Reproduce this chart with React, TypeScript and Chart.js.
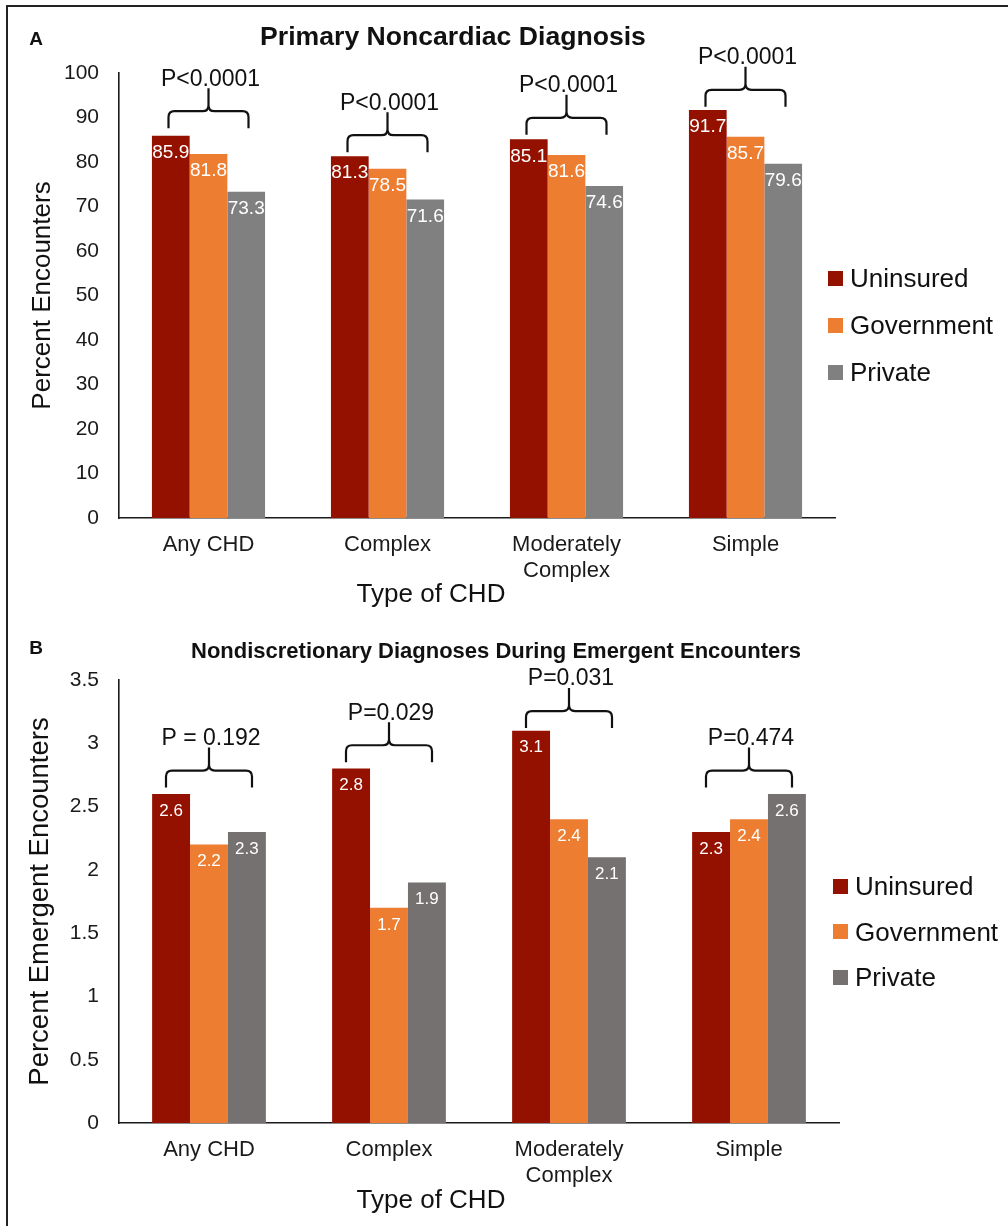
import React, { useEffect, useRef } from 'react';
import { Chart, registerables } from 'chart.js';

Chart.register(...registerables);

// ---------- data ----------
const categories: (string | string[])[] = ['Any CHD', 'Complex', ['Moderately', 'Complex'], 'Simple'];
const seriesNames = ['Uninsured', 'Government', 'Private'];

const uninsuredA = [85.9, 81.3, 85.1, 91.7];
const governmentA = [81.8, 78.5, 81.6, 85.7];
const privateA = [73.3, 71.6, 74.6, 79.6];
const pValuesA = ['P<0.0001', 'P<0.0001', 'P<0.0001', 'P<0.0001'];
const bracketTipsA = [87.6, 82.2, 86.1, 92.4];
const yTicksA = [0, 10, 20, 30, 40, 50, 60, 70, 80, 90, 100];

const uninsuredB = [2.6, 2.8, 3.1, 2.3];
const governmentB = [2.2, 1.7, 2.4, 2.4];
const privateB = [2.3, 1.9, 2.1, 2.6];
const pValuesB = ['P = 0.192', 'P=0.029', 'P=0.031', 'P=0.474'];
const bracketTipsB = [2.65, 2.85, 3.12, 2.65];
const yTicksB = [0, 0.5, 1, 1.5, 2, 2.5, 3, 3.5];

// ---------- styles ----------
const FONT = '"Liberation Sans", Arial, sans-serif';
const colorsA = ['#941100', '#ED7D31', '#808080'];
const colorsB = ['#941100', '#ED7D31', '#767171'];

const bracketPlugin = {
  id: 'brackets',
  afterDatasetsDraw(chart: any, _args: any, opts: any) {
    const { ctx } = chart;
    const xs = chart.scales.x;
    const ys = chart.scales.y;
    const tips: number[] = opts.tips || [];
    const labels: string[] = opts.labels || [];
    const half = opts.half ?? 42;
    const r = 6;
    ctx.save();
    ctx.strokeStyle = '#111';
    ctx.lineWidth = 2.2;
    ctx.lineJoin = 'round';
    ctx.fillStyle = '#111';
    ctx.font = `${opts.fontSize ?? 23}px ${FONT}`;
    ctx.textAlign = 'center';
    ctx.textBaseline = 'middle';
    tips.forEach((t, i) => {
      const xc = xs.getPixelForValue(i);
      const tip = ys.getPixelForValue(t);
      const h = tip - 17;
      const top = tip - 40;
      const x0 = xc - half;
      const x1 = xc + half;
      ctx.beginPath();
      ctx.moveTo(x0, tip);
      ctx.lineTo(x0, h + r);
      ctx.quadraticCurveTo(x0, h, x0 + r, h);
      ctx.lineTo(xc - r, h);
      ctx.quadraticCurveTo(xc, h, xc, h - r);
      ctx.lineTo(xc, top);
      ctx.moveTo(xc, h - r);
      ctx.quadraticCurveTo(xc, h, xc + r, h);
      ctx.lineTo(x1 - r, h);
      ctx.quadraticCurveTo(x1, h, x1, h + r);
      ctx.lineTo(x1, tip);
      ctx.stroke();
      ctx.fillText(labels[i], xc + 2, tip - 49);
    });
    ctx.restore();
  },
};

const valueLabelPlugin = {
  id: 'valueLabels',
  afterDatasetsDraw(chart: any, _args: any, opts: any) {
    const { ctx } = chart;
    ctx.save();
    ctx.fillStyle = '#ffffff';
    ctx.font = `${opts.fontSize ?? 18}px ${FONT}`;
    ctx.textAlign = 'center';
    ctx.textBaseline = 'middle';
    chart.data.datasets.forEach((ds: any, di: number) => {
      const meta = chart.getDatasetMeta(di);
      meta.data.forEach((bar: any, i: number) => {
        ctx.fillText(String(ds.data[i]), bar.x, bar.y + 17);
      });
    });
    ctx.restore();
  },
};

function makeConfig(p: {
  series: number[][];
  colors: string[];
  ticks: number[];
  max: number;
  yTitle: string;
  yTitleSize: number;
  yTitlePad: number;
  tips: number[];
  pLabels: string[];
  padTop: number;
  padRight: number;
  xHeight: number;
  valueSize: number;
  half: number;
}): any {
  return {
    type: 'bar',
    data: {
      labels: categories,
      datasets: p.series.map((d, i) => ({
        label: seriesNames[i],
        data: d,
        backgroundColor: p.colors[i],
        borderWidth: 0,
        categoryPercentage: 0.632,
        barPercentage: 1.0,
      })),
    },
    plugins: [valueLabelPlugin, bracketPlugin],
    options: {
      responsive: false,
      animation: false,
      devicePixelRatio: 1,
      layout: { padding: { top: p.padTop, right: p.padRight, left: 0, bottom: 0 } },
      plugins: {
        legend: { display: false },
        title: { display: false },
        tooltip: { enabled: false },
        valueLabels: { fontSize: p.valueSize },
        brackets: { tips: p.tips, labels: p.pLabels, half: p.half, fontSize: 23 },
      },
      scales: {
        x: {
          grid: { display: false, drawTicks: false },
          border: { display: true, color: '#1a1a1a', width: 1.6 },
          ticks: {
            color: '#1a1a1a',
            padding: 14,
            maxRotation: 0,
            autoSkip: false,
            font: { family: FONT, size: 22, lineHeight: 26 / 22 },
          },
          afterFit: (scale: any) => {
            scale.height = p.xHeight;
          },
        },
        y: {
          min: 0,
          max: p.max,
          grid: { display: false, drawTicks: false },
          border: { display: true, color: '#1a1a1a', width: 1.6 },
          afterBuildTicks: (scale: any) => {
            scale.ticks = p.ticks.map((v) => ({ value: v }));
          },
          ticks: {
            color: '#1a1a1a',
            padding: 20,
            font: { family: FONT, size: 21 },
            callback: (v: any) => String(v),
          },
          title: {
            display: true,
            text: p.yTitle,
            color: '#111',
            font: { family: FONT, size: p.yTitleSize, lineHeight: 1.2 },
            padding: { top: p.yTitlePad, bottom: 0 },
          },
          afterFit: (scale: any) => {
            scale.width = 111;
          },
        },
      },
    },
  };
}

function ChartCanvas({ cfg, left, top, width, height }: { cfg: () => any; left: number; top: number; width: number; height: number }) {
  const ref = useRef<HTMLCanvasElement | null>(null);
  useEffect(() => {
    if (!ref.current) return;
    const chart = new Chart(ref.current, cfg());
    return () => chart.destroy();
  }, []);
  return (
    <canvas
      ref={ref}
      width={width}
      height={height}
      style={{ position: 'absolute', left, top, width, height, display: 'block' }}
    />
  );
}

function Text({ x, y, size, bold, children, align = 'center' }: any) {
  return (
    <div
      style={{
        position: 'absolute',
        left: x,
        top: y,
        transform: align === 'center' ? 'translate(-50%, -50%)' : 'translate(0, -50%)',
        fontFamily: FONT,
        fontSize: size,
        fontWeight: bold ? 'bold' : 'normal',
        lineHeight: 1,
        whiteSpace: 'nowrap',
        color: '#111',
      }}
    >
      {children}
    </div>
  );
}

function Legend({ x, y0, gap, colors }: { x: number; y0: number; gap: number; colors: string[] }) {
  return (
    <>
      {seriesNames.map((n, i) => (
        <div key={n}>
          <div
            style={{
              position: 'absolute',
              left: x,
              top: y0 + i * gap - 7.5,
              width: 15,
              height: 15,
              background: colors[i],
            }}
          />
          <Text x={x + 22} y={y0 + i * gap} size={26} align="left">
            {n}
          </Text>
        </div>
      ))}
    </>
  );
}

export default function App() {
  useEffect(() => {
    document.body.style.margin = '0';
  }, []);

  const cfgA = () =>
    makeConfig({
      series: [uninsuredA, governmentA, privateA],
      colors: colorsA,
      ticks: yTicksA,
      max: 100,
      yTitle: 'Percent Encounters',
      yTitleSize: 26,
      yTitlePad: 19.4,
      tips: bracketTipsA,
      pLabels: pValuesA,
      padTop: 65,
      padRight: 165,
      xHeight: 90,
      valueSize: 19,
      half: 40,
    });
  const cfgB = () =>
    makeConfig({
      series: [uninsuredB, governmentB, privateB],
      colors: colorsB,
      ticks: yTicksB,
      max: 3.5,
      yTitle: 'Percent Emergent Encounters',
      yTitleSize: 27.5,
      yTitlePad: 16,
      tips: bracketTipsB,
      pLabels: pValuesB,
      padTop: 70,
      padRight: 161,
      xHeight: 87,
      valueSize: 17,
      half: 43,
    });

  return (
    <div style={{ position: 'relative', width: 1008, height: 1226, overflow: 'hidden', background: '#fff' }}>
      <style>{'body{margin:0}'}</style>
      <div
        style={{
          position: 'absolute',
          left: 6,
          top: 5,
          width: 1010,
          height: 1230,
          borderLeft: '2px solid #222',
          borderTop: '2px solid #222',
          boxSizing: 'border-box',
          pointerEvents: 'none',
        }}
      />
      <ChartCanvas cfg={cfgA} left={8} top={8} width={992} height={600} />
      <ChartCanvas cfg={cfgB} left={8} top={610} width={992} height={600} />

      <Text x={36} y={38} size={19} bold>
        A
      </Text>
      <Text x={453} y={36} size={26.6} bold>
        Primary Noncardiac Diagnosis
      </Text>
      <Text x={431} y={593} size={26}>
        Type of CHD
      </Text>
      <Legend x={828} y0={278} gap={47} colors={colorsA} />

      <Text x={36} y={647} size={19} bold>
        B
      </Text>
      <Text x={496} y={651} size={22} bold>
        Nondiscretionary Diagnoses During Emergent Encounters
      </Text>
      <Text x={431} y={1199} size={26}>
        Type of CHD
      </Text>
      <Legend x={833} y0={886} gap={45.5} colors={colorsB} />
    </div>
  );
}
